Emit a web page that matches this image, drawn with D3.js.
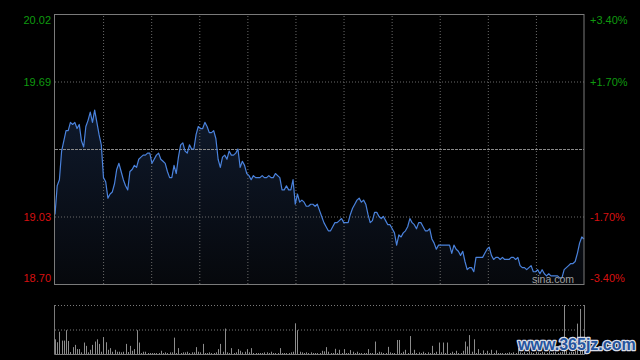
<!DOCTYPE html>
<html><head><meta charset="utf-8">
<script src="https://cdn.jsdelivr.net/npm/d3@7"></script>
<style>html,body{margin:0;padding:0;background:#000;} svg{display:block;}</style>
</head><body>
<svg id="c" width="640" height="360"></svg>
<script>
// ---- data ----
const prices = [
19.04,19.18,19.21,19.35,19.40,19.45,19.45,19.49,19.48,19.49,
19.46,19.48,19.40,19.37,19.47,19.50,19.54,19.49,19.55,19.49,
19.43,19.38,19.22,19.20,19.12,19.14,19.15,19.19,19.26,19.29,
19.25,19.21,19.18,19.16,19.25,19.26,19.28,19.27,19.31,19.32,
19.33,19.33,19.34,19.34,19.29,19.31,19.33,19.34,19.31,19.30,
19.29,19.25,19.22,19.22,19.28,19.24,19.32,19.38,19.39,19.35,
19.34,19.38,19.36,19.36,19.43,19.47,19.46,19.46,19.49,19.47,
19.44,19.44,19.45,19.41,19.31,19.27,19.32,19.33,19.31,19.35,
19.33,19.33,19.34,19.36,19.27,19.30,19.28,19.24,19.23,19.21,
19.23,19.22,19.22,19.22,19.23,19.22,19.22,19.23,19.22,19.22,
19.24,19.23,19.22,19.16,19.16,19.18,19.16,19.16,19.21,19.09,
19.14,19.10,19.11,19.10,19.08,19.08,19.09,19.09,19.08,19.09,
19.06,19.03,19.00,18.98,18.96,18.96,18.98,19.00,19.00,19.01,
19.02,19.00,19.00,19.00,19.04,19.07,19.09,19.11,19.12,19.10,
19.11,19.09,19.04,19.00,19.01,19.05,19.05,19.03,19.02,19.03,
19.01,18.99,18.99,18.97,18.95,18.89,18.94,18.93,18.95,18.96,
18.98,19.02,19.00,18.99,18.97,19.00,19.00,18.98,18.96,18.96,
18.97,18.92,18.90,18.87,18.89,18.89,18.89,18.89,18.89,18.89,
18.85,18.89,18.87,18.86,18.84,18.86,18.81,18.77,18.78,18.78,
18.76,18.83,18.83,18.83,18.83,18.85,18.87,18.88,18.84,18.82,
18.83,18.83,18.82,18.83,18.82,18.82,18.82,18.83,18.83,18.82,
18.83,18.79,18.78,18.78,18.77,18.78,18.79,18.76,18.76,18.77,
18.75,18.77,18.75,18.74,18.75,18.74,18.74,18.74,18.74,18.73,
18.73,18.77,18.78,18.79,18.80,18.80,18.81,18.85,18.90,18.93,18.92
];
const volumes = [
1500,1200,2270,1370,1370,2430,1330,200,700,930,
500,500,170,1170,830,170,430,930,1270,1500,
1030,230,1730,1200,430,600,230,430,230,230,
170,230,1030,200,830,330,500,2430,1170,100,
230,230,100,100,100,100,100,100,330,100,
170,100,170,170,1670,100,600,100,170,170,
230,100,170,170,700,230,170,1030,100,100,
170,100,100,170,500,1030,230,2600,170,100,
600,100,170,500,330,170,230,500,170,600,
100,100,100,100,100,170,170,100,230,100,
100,100,600,100,100,100,100,170,230,3130,
2430,230,170,100,170,100,170,100,100,100,
100,330,270,700,230,100,100,530,100,430,
100,500,100,100,400,230,100,230,100,100,
100,100,500,100,100,1270,100,230,170,100,
100,730,170,100,100,1430,1430,100,230,430,
100,1830,100,430,100,170,100,230,100,170,
100,830,100,230,1170,170,1170,100,1170,100,
230,100,330,100,100,330,1270,770,1930,230,
1500,100,500,100,370,100,330,100,430,100,
370,100,100,100,100,100,170,100,170,100,
600,170,100,230,100,300,170,100,230,170,
100,230,170,100,300,100,170,230,100,170,
230,4990,300,170,230,200,300,3100,4600,800,4990
];
const prevClose = 19.36;
const priceTicks = [20.02, 19.69, 19.36, 19.03, 18.70];
const pctLabels = ["+3.40%", "+1.70%", "", "-1.70%", "-3.40%"];
const sourceMark = "sina.com";
const siteMark = "www.365jz.com";

// ---- layout ----
const svg = d3.select("#c");
const L = 55, R = 584, T = 14, B = 284;
const VT = 305, VB = 354;
const FONT = "Arial, 'Liberation Sans', sans-serif";
const GREEN = "#0f9a0f", RED = "#d81010";

const x = d3.scaleLinear().domain([0, prices.length - 1]).range([L, R]);
const y = d3.scaleLinear().domain([18.70, 20.02]).range([B, T]);
const vy = d3.scaleLinear().domain([0, 5000]).range([VB, VT]).clamp(true);

svg.append("rect").attr("width", 640).attr("height", 360).attr("fill", "#000");

// gradient
const defs = svg.append("defs");
const grad = defs.append("linearGradient").attr("id", "ag")
  .attr("gradientUnits", "userSpaceOnUse").attr("x1", 0).attr("y1", T).attr("x2", 0).attr("y2", B);
grad.append("stop").attr("offset", "0%").attr("stop-color", "#14233d");
grad.append("stop").attr("offset", "100%").attr("stop-color", "#06080c");

// area + line
svg.append("path").datum(prices)
  .attr("d", d3.area().x((d, i) => x(i)).y0(B).y1(d => y(d)))
  .attr("fill", "url(#ag)");

// vertical grid
const gridV = d3.range(1, 11).map(k => k * (prices.length - 1) / 11);
svg.append("g").attr("transform", `translate(0,${B})`)
  .call(d3.axisBottom(x).tickValues(gridV).tickSize(-(B - T)).tickFormat(""))
  .call(g => { g.select(".domain").remove();
    g.selectAll("line").attr("stroke", "#6a6a6a").attr("stroke-dasharray", "1,2"); });

// horizontal grid
svg.append("g").attr("transform", `translate(${L},0)`)
  .call(d3.axisLeft(y).tickValues([19.69, 19.03]).tickSize(-(R - L)).tickFormat(""))
  .call(g => { g.select(".domain").remove();
    g.selectAll("line").attr("stroke", "#6a6a6a").attr("stroke-dasharray", "1,2"); });
svg.append("g").attr("transform", `translate(${L},0)`)
  .call(d3.axisLeft(y).tickValues([prevClose]).tickSize(-(R - L)).tickFormat(""))
  .call(g => { g.select(".domain").remove();
    g.selectAll("line").attr("stroke", "#8a8a8a").attr("stroke-dasharray", "3,1"); });

svg.append("path").datum(prices)
  .attr("d", d3.line().x((d, i) => x(i)).y(d => y(d)))
  .attr("fill", "none").attr("stroke", "#4a82dc").attr("stroke-width", 1.2)
  .attr("stroke-linejoin", "round");

// frame
svg.append("rect").attr("x", L - 0.5).attr("y", T + 0.5).attr("width", R - L + 0.5).attr("height", B - T)
  .attr("fill", "none").attr("stroke", "#7a7a7a");

// left labels
const colorFor = v => v > prevClose ? GREEN : RED;
const shift = v => v === 20.02 ? 6 : (v === 18.70 ? -6 : 0);
svg.append("g").attr("transform", `translate(${L},0)`)
  .call(d3.axisLeft(y).tickValues(priceTicks).tickSize(0).tickPadding(4)
    .tickFormat(d => d === prevClose ? "" : d.toFixed(2)))
  .call(g => { g.select(".domain").remove();
    g.selectAll("text").attr("font-family", FONT).attr("font-size", 11)
      .attr("fill", d => colorFor(d)).attr("y", d => shift(d)); });

// right labels
svg.append("g").attr("transform", `translate(${R},0)`)
  .call(d3.axisRight(y).tickValues(priceTicks).tickSize(0).tickPadding(6)
    .tickFormat((d, i) => pctLabels[i]))
  .call(g => { g.select(".domain").remove();
    g.selectAll("text").attr("font-family", FONT).attr("font-size", 11)
      .attr("fill", d => colorFor(d)).attr("y", d => shift(d)); });

// source watermark
svg.append("text").attr("x", 532).attr("y", 283).text(sourceMark)
  .attr("font-family", FONT).attr("font-size", 10.5).attr("fill", "#a0a0a0");

// volume panel grid
svg.append("g").attr("transform", `translate(${L},0)`)
  .call(d3.axisLeft(vy).tickValues([2500, 5000]).tickSize(-(R - L)).tickFormat(""))
  .call(g => { g.select(".domain").remove();
    g.selectAll("line").attr("stroke", "#7a7a7a").attr("stroke-dasharray", "1,2"); });

// volume bars
svg.append("g").selectAll("line").data(volumes).join("line")
  .attr("x1", (d, i) => Math.round(x(i)) + 0.5).attr("x2", (d, i) => Math.round(x(i)) + 0.5)
  .attr("y1", VB).attr("y2", d => vy(d))
  .attr("stroke", "#8c8c8c").attr("stroke-width", 1);

// volume frame (left, right, bottom)
svg.append("path")
  .attr("d", `M${L - 0.5},${VT} V${VB + 0.5} H${R + 0.5} V${VT}`)
  .attr("fill", "none").attr("stroke", "#7a7a7a");

// site watermark
svg.append("text").attr("x", 518).attr("y", 350).text(siteMark)
  .attr("font-family", FONT).attr("font-size", 16).attr("font-weight", "bold")
  .attr("fill", "#24549f").attr("stroke", "#d8dce6").attr("stroke-width", 2.5)
  .attr("paint-order", "stroke").attr("stroke-linejoin", "round");
</script>
</body></html>
